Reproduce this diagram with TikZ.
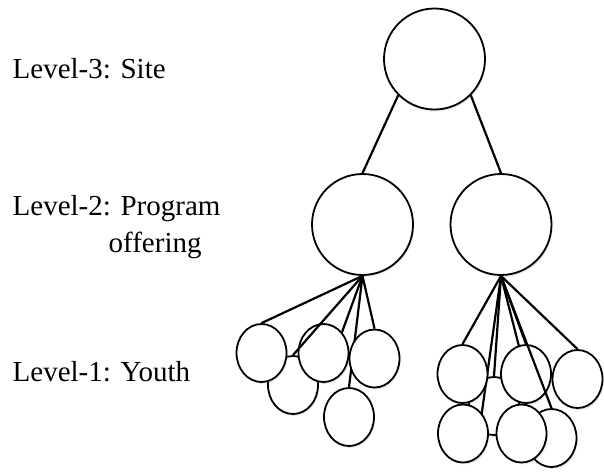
\documentclass[tikz,border=0pt]{standalone}
\usepackage{fontspec}
\setmainfont{Liberation Serif}
\usetikzlibrary{shapes.geometric,shadows}
\pgfdeclarelayer{hid}
\pgfdeclarelayer{under}
\pgfdeclarelayer{over}
\pgfsetlayers{hid,under,main,over}
\tikzset{
  shad/.style={drop shadow={shadow xshift=1.2pt, shadow yshift=-2pt, opacity=0.18}},
  bigc/.style={circle, draw, line width=1.8pt, fill=white, minimum size=101pt, inner sep=0pt, shad},
  small/.style={ellipse, draw, line width=1.8pt, fill=white, minimum width=50pt, minimum height=58pt, inner sep=0pt, shad},
  conn/.style={line width=2.2pt},
  lbl/.style={anchor=base west, inner sep=0pt, font=\fontsize{29}{37}\selectfont}
}
\begin{document}
\begin{tikzpicture}[x=1pt,y=-1pt]
\useasboundingbox (0,0) rectangle (604,472);

% labels
\node[lbl] (l3) at (12.5,78) {Level-3: Site};
\node[lbl] (l2) at (12.5,215.5) {Level-2: Program};
\node[lbl] (l2b) at (108.5,252.5) {offering};
\node[lbl] (l1) at (12.5,381.5) {Level-1: Youth};

% hidden (back) ellipses
\begin{pgfonlayer}{hid}
\node[small] (B) at (293,385) {};
\node[small] (E) at (349,417) {};
\node[small] (X) at (494,406) {};
\node[small] (K) at (551.5,438) {};
\end{pgfonlayer}

% main circles and ellipses
\node[bigc] (site) at (434.5,59) {};
\node[bigc] (p1) at (362.5,224.5) {};
\node[bigc] (p2) at (501,224.5) {};

\node[small] (A) at (261.5,353) {};
\node[small] (C) at (323.5,353) {};
\node[small] (D) at (374.5,358.5) {};

\node[small] (F) at (462.5,374) {};
\node[small] (G) at (526,374) {};
\node[small] (H) at (577.5,379) {};
\node[small] (I) at (463,433.5) {};
\node[small] (J) at (521.5,433.5) {};

\coordinate (ihid) at (478,440);

% connectors under the ellipses
\begin{pgfonlayer}{under}
\draw[conn] (site.south west) -- (p1.north);
\draw[conn] (site.south east) -- (p2.north);
\draw[conn] (p1.south) -- (A.north);
\draw[conn] (p1.south) -- (C.south);
\draw[conn] (p1.south) -- (E.north);
\draw[conn] (p1.south) -- (D.north);
\draw[conn] (p2.south) -- (F.north);
\draw[conn] (p2.south) -- (ihid);
\draw[conn] (p2.south) -- (X.north);
\draw[conn] (p2.south) -- (G.center);
\draw[conn] (p2.south) -- (G.north);
\draw[conn] (p2.south) -- (H.north);
\end{pgfonlayer}

% connectors over the ellipses
\begin{pgfonlayer}{over}
\draw[conn] (p1.south) -- (B.north);
\draw[conn] (p2.south) -- (K.north);
\end{pgfonlayer}
\end{tikzpicture}
\end{document}
